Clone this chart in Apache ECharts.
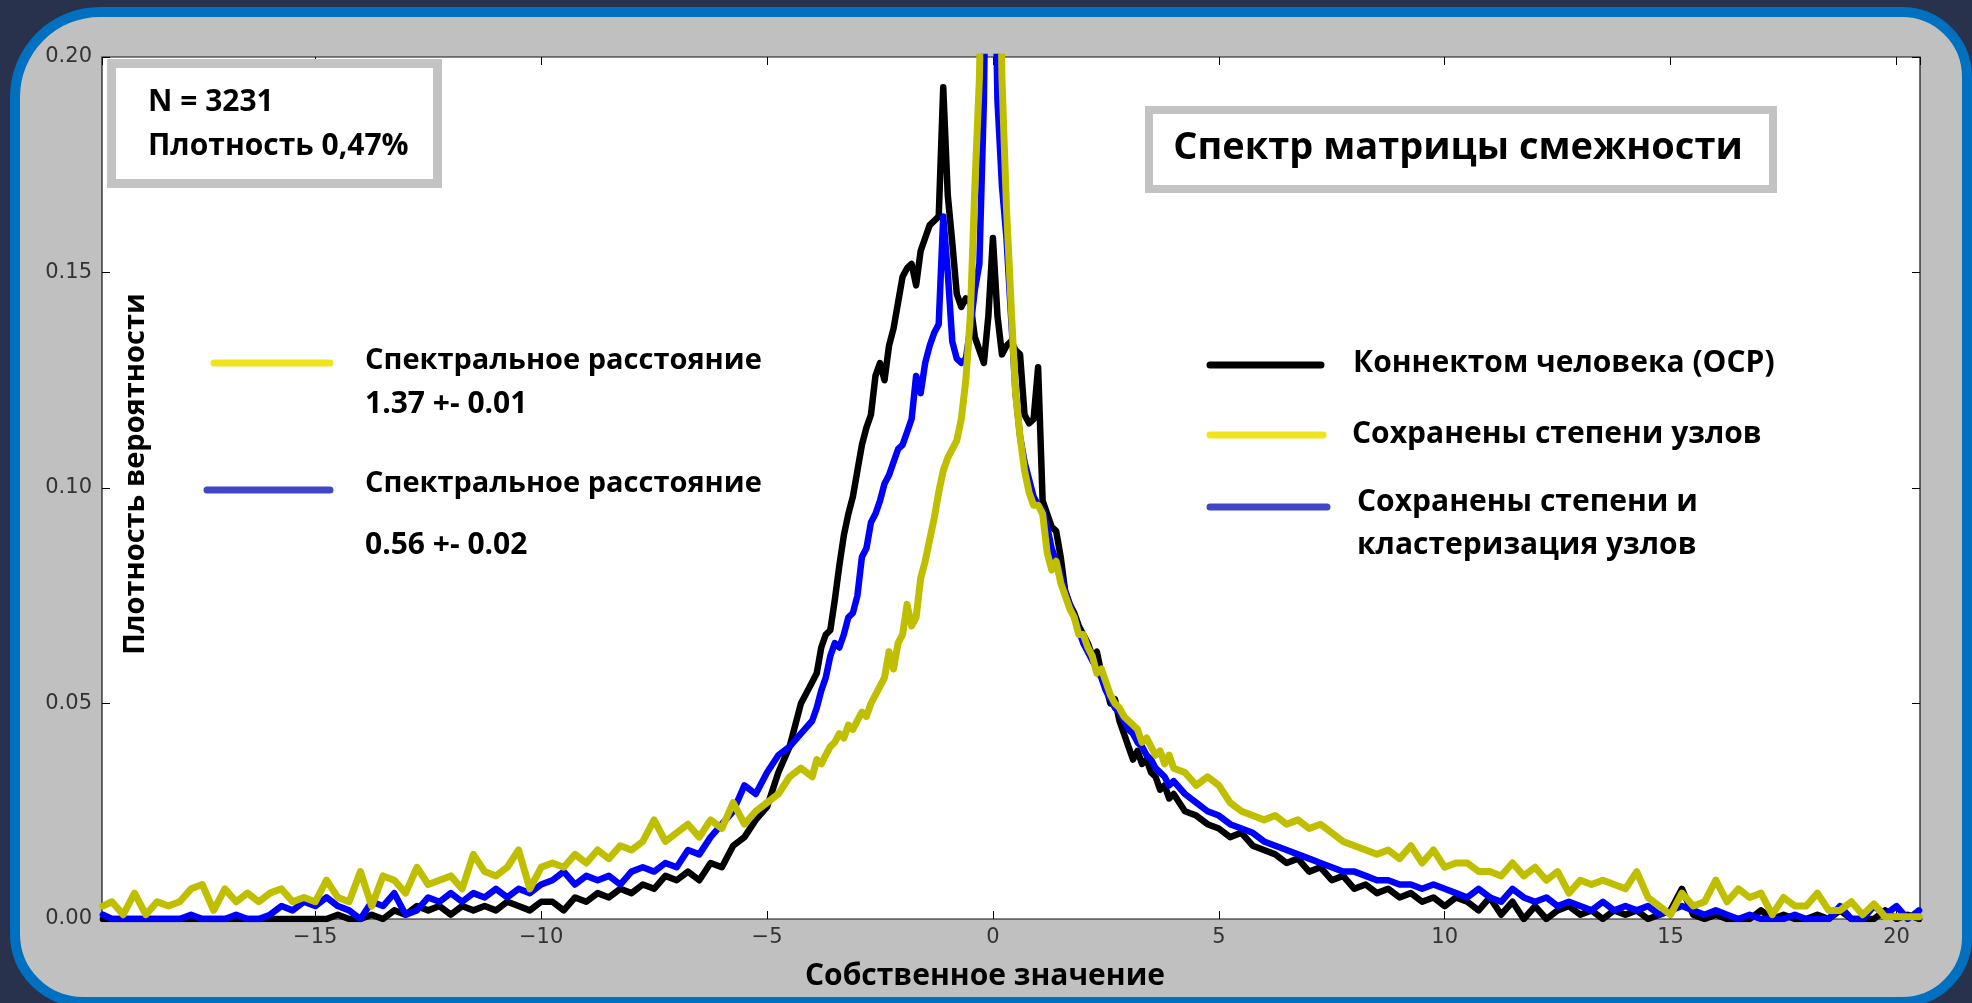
<!DOCTYPE html>
<html>
<head>
<meta charset="utf-8">
<script src="https://cdn.jsdelivr.net/npm/echarts/dist/echarts.min.js"></script>
<style>
  html, body { margin: 0; padding: 0; background: #28324d; }
  #chart { width: 1972px; height: 1003px; }
</style>
</head>
<body>
<div id="chart"></div>
<script>
// Eigenvalue bin positions: coarse in the tails, fine near zero
const eigen = [
  -19.7,
  -19.5, -19.25, -19,
  -18.75, -18.5, -18.25, -18,
  -17.75, -17.5, -17.25, -17,
  -16.75, -16.5, -16.25, -16,
  -15.75, -15.5, -15.25, -15,
  -14.75, -14.5, -14.25, -14,
  -13.75, -13.5, -13.25, -13,
  -12.75, -12.5, -12.25, -12,
  -11.75, -11.5, -11.25, -11,
  -10.75, -10.5, -10.25, -10,
  -9.75, -9.5, -9.25, -9,
  -8.75, -8.5, -8.25, -8,
  -7.75, -7.5, -7.25, -7,
  -6.75, -6.5, -6.25, -6,
  -5.75, -5.5, -5.25, -5,
  -4.75, -4.5, -4.25,
  -4.0, -3.9, -3.8, -3.7, -3.6, -3.5, -3.4, -3.3, -3.2, -3.1,
  -3.0, -2.9, -2.8, -2.7, -2.6, -2.5, -2.4, -2.3, -2.2, -2.1,
  -2.0, -1.9, -1.8, -1.7, -1.6, -1.5, -1.4, -1.3, -1.2, -1.1,
  -1.0, -0.9, -0.8, -0.7, -0.6, -0.5, -0.4, -0.3, -0.2, -0.1,
  0.0, 0.1, 0.2, 0.3, 0.4, 0.5, 0.6, 0.7, 0.8, 0.9,
  1.0, 1.1, 1.2, 1.3, 1.4, 1.5, 1.6, 1.7, 1.8, 1.9,
  2.0, 2.1, 2.2, 2.3, 2.4, 2.5, 2.6, 2.7, 2.8, 2.9,
  3.0, 3.1, 3.2, 3.3, 3.4, 3.5, 3.6, 3.7, 3.8, 3.9,
  4.0,
  4.25, 4.5, 4.75, 5,
  5.25, 5.5, 5.75, 6,
  6.25, 6.5, 6.75, 7,
  7.25, 7.5, 7.75, 8,
  8.25, 8.5, 8.75, 9,
  9.25, 9.5, 9.75, 10,
  10.25, 10.5, 10.75, 11,
  11.25, 11.5, 11.75, 12,
  12.25, 12.5, 12.75, 13,
  13.25, 13.5, 13.75, 14,
  14.25, 14.5, 14.75, 15,
  15.25, 15.5, 15.75, 16,
  16.25, 16.5, 16.75, 17,
  17.25, 17.5, 17.75, 18,
  18.25, 18.5, 18.75, 19,
  19.25, 19.5, 19.75, 20,
  20.25, 20.5
];

// Human connectome (OCP) spectral density
const ocp = [
  0,
  0, 0, 0,
  0, 0, 0, 0,
  0, 0, 0, 0,
  0, 0, 0, 0,
  0, 0, 0, 0,
  0, 0.001, 0, 0,
  0.001, 0, 0.002, 0.001,
  0.003, 0.002, 0.003, 0.001,
  0.003, 0.002, 0.003, 0.002,
  0.004, 0.003, 0.002, 0.004,
  0.004, 0.002, 0.005, 0.004,
  0.006, 0.005, 0.007, 0.006,
  0.008, 0.007, 0.010, 0.009,
  0.011, 0.009, 0.013, 0.012,
  0.017, 0.019, 0.023, 0.026,
  0.034, 0.040, 0.050,
  0.055, 0.057, 0.063, 0.066, 0.067, 0.074, 0.082, 0.089, 0.094, 0.098,
  0.104, 0.110, 0.114, 0.117, 0.126, 0.129, 0.125, 0.133, 0.137, 0.143,
  0.149, 0.151, 0.152, 0.147, 0.155, 0.158, 0.161, 0.162, 0.163, 0.193,
  0.168, 0.157, 0.145, 0.142, 0.144, 0.143, 0.135, 0.132, 0.129, 0.140,
  0.158, 0.140, 0.131, 0.133, 0.134, 0.132, 0.131, 0.117, 0.115, 0.116,
  0.128, 0.097, 0.094, 0.091, 0.090, 0.084, 0.076, 0.073, 0.071, 0.068,
  0.066, 0.064, 0.061, 0.062, 0.057, 0.054, 0.050, 0.051, 0.046, 0.043,
  0.040, 0.037, 0.039, 0.036, 0.037, 0.034, 0.033, 0.030, 0.031, 0.028,
  0.029,
  0.025, 0.024, 0.022, 0.021,
  0.019, 0.020, 0.017, 0.016,
  0.015, 0.013, 0.014, 0.011,
  0.012, 0.009, 0.010, 0.007,
  0.008, 0.006, 0.007, 0.005,
  0.006, 0.004, 0.005, 0.003,
  0.005, 0.004, 0.002, 0.005,
  0.001, 0.004, 0, 0.003,
  0, 0.002, 0.003, 0.001,
  0.002, 0, 0.002, 0.001,
  0.002, 0, 0.001, 0.002,
  0.007, 0.001, 0, 0.001,
  0, 0, 0, 0.002,
  0, 0.001, 0, 0,
  0.001, 0, 0.002, 0,
  0, 0, 0.002, 0,
  0.001, 0
];

// Null model: node degrees preserved
const degSeq = [
  0.003,
  0.004, 0.001, 0.006,
  0.001, 0.004, 0.003, 0.004,
  0.007, 0.008, 0.002, 0.007,
  0.004, 0.006, 0.004, 0.006,
  0.007, 0.004, 0.005, 0.004,
  0.009, 0.005, 0.004, 0.011,
  0.003, 0.010, 0.009, 0.006,
  0.012, 0.008, 0.009, 0.010,
  0.007, 0.015, 0.011, 0.010,
  0.012, 0.016, 0.007, 0.012,
  0.013, 0.012, 0.015, 0.013,
  0.016, 0.014, 0.017, 0.016,
  0.018, 0.023, 0.018, 0.020,
  0.022, 0.019, 0.023, 0.021,
  0.027, 0.022, 0.025, 0.027,
  0.029, 0.033, 0.035,
  0.033, 0.037, 0.036, 0.038, 0.040, 0.041, 0.043, 0.042, 0.045, 0.044,
  0.046, 0.048, 0.047, 0.050, 0.052, 0.054, 0.056, 0.062, 0.058, 0.064,
  0.066, 0.073, 0.068, 0.070, 0.079, 0.083, 0.088, 0.093, 0.099, 0.104,
  0.107, 0.109, 0.111, 0.116, 0.125, 0.140, 0.170, 0.195, 0.250, 0.290,
  0.300, 0.270, 0.195, 0.165, 0.143, 0.122, 0.112, 0.104, 0.099, 0.096,
  0.096, 0.094, 0.085, 0.081, 0.083, 0.078, 0.075, 0.072, 0.070, 0.066,
  0.066, 0.063, 0.061, 0.057, 0.058, 0.055, 0.052, 0.050, 0.049, 0.047,
  0.046, 0.045, 0.044, 0.041, 0.042, 0.040, 0.038, 0.039, 0.036, 0.038,
  0.035,
  0.034, 0.031, 0.033, 0.031,
  0.027, 0.025, 0.024, 0.023,
  0.024, 0.022, 0.023, 0.021,
  0.022, 0.020, 0.018, 0.017,
  0.016, 0.015, 0.016, 0.014,
  0.017, 0.013, 0.016, 0.012,
  0.013, 0.013, 0.011, 0.011,
  0.010, 0.013, 0.010, 0.012,
  0.009, 0.011, 0.006, 0.009,
  0.008, 0.009, 0.008, 0.007,
  0.011, 0.005, 0.003, 0.001,
  0.006, 0.003, 0.004, 0.009,
  0.004, 0.007, 0.005, 0.006,
  0.001, 0.005, 0.003, 0.003,
  0.006, 0.002, 0.002, 0.004,
  0.001, 0.0035, 0.0005, 0.0005,
  0.0005, 0.0005
];

// Null model: node degrees and clustering preserved
const degClust = [
  0.001,
  0, 0, 0,
  0, 0, 0, 0,
  0.001, 0, 0, 0,
  0.001, 0, 0, 0.001,
  0.003, 0.002, 0.004, 0.003,
  0.005, 0.003, 0.002, 0,
  0.004, 0.003, 0.006, 0.001,
  0.002, 0.005, 0.004, 0.006,
  0.004, 0.006, 0.005, 0.007,
  0.005, 0.007, 0.006, 0.008,
  0.009, 0.011, 0.008, 0.010,
  0.009, 0.010, 0.008, 0.011,
  0.012, 0.011, 0.013, 0.012,
  0.016, 0.015, 0.019, 0.022,
  0.025, 0.031, 0.029, 0.034,
  0.038, 0.040, 0.043,
  0.046, 0.049, 0.053, 0.056, 0.061, 0.064, 0.063, 0.066, 0.070, 0.071,
  0.075, 0.084, 0.086, 0.092, 0.094, 0.097, 0.101, 0.103, 0.106, 0.109,
  0.110, 0.113, 0.116, 0.126, 0.122, 0.129, 0.133, 0.136, 0.138, 0.163,
  0.150, 0.134, 0.130, 0.129, 0.130, 0.137, 0.146, 0.152, 0.190, 0.270,
  0.250, 0.190, 0.170, 0.158, 0.140, 0.122, 0.112, 0.106, 0.102, 0.098,
  0.096, 0.095, 0.091, 0.086, 0.083, 0.080, 0.076, 0.073, 0.070, 0.067,
  0.064, 0.062, 0.060, 0.058, 0.056, 0.053, 0.051, 0.049, 0.048, 0.046,
  0.044, 0.043, 0.041, 0.040, 0.038, 0.037, 0.035, 0.034, 0.033, 0.031,
  0.032,
  0.029, 0.027, 0.025, 0.024,
  0.022, 0.021, 0.020, 0.018,
  0.017, 0.016, 0.015, 0.014,
  0.013, 0.012, 0.011, 0.011,
  0.010, 0.009, 0.009, 0.008,
  0.008, 0.007, 0.008, 0.007,
  0.006, 0.005, 0.007, 0.005,
  0.004, 0.007, 0.005, 0.004,
  0.005, 0.003, 0.004, 0.003,
  0.002, 0.004, 0.002, 0.003,
  0.002, 0.003, 0.001, 0.002,
  0.003, 0.002, 0.001, 0.002,
  0.001, 0, 0.001, 0,
  0, 0, 0.001, 0,
  0, 0, 0.003, 0,
  0, 0.003, 0.001, 0.003,
  0, 0.002
];

// Axis ranges
const xRange = [-19.72, 20.52];
const yRange = [0, 0.2];

const pairs = ys => eigen.map((x, i) => [x, ys[i]]);

const TXT = '"Open Sans", "Noto Sans", sans-serif';
const bold = size => 'bold ' + size + 'px ' + TXT;

function label(text, x, y, size, align) {
  return {
    type: 'text', z: 100, silent: true,
    style: { text: text, x: x, y: y, font: bold(size), fill: '#000',
             textAlign: align || 'left', textVerticalAlign: 'middle' }
  };
}
function swatch(x1, x2, y, color) {
  return {
    type: 'line', z: 100, silent: true,
    shape: { x1: x1, y1: y, x2: x2, y2: y },
    style: { stroke: color, lineWidth: 7, lineCap: 'round' }
  };
}

const tickStyle = { show: true, inside: true, length: 8, lineStyle: { color: '#000', width: 1 } };
const tickFont = { fontFamily: '"DejaVu Sans", sans-serif', fontSize: 21, color: '#333' };
const hiddenLine = { show: false, onZero: false };

const chart = echarts.init(document.getElementById('chart'), null, { renderer: 'canvas' });

chart.setOption({
  animation: false,
  backgroundColor: '#28324d',
  grid: {
    left: 102, right: 52, top: 57, bottom: 84,
    show: true, backgroundColor: '#ffffff', borderColor: '#111', borderWidth: 1.2
  },
  xAxis: [
    {
      type: 'value', min: xRange[0], max: xRange[1],
      minInterval: 5, maxInterval: 5,
      axisLine: hiddenLine,
      axisTick: tickStyle,
      splitLine: { show: false },
      axisLabel: Object.assign({
        margin: 8, showMinLabel: false, showMaxLabel: false,
        formatter: v => {
          if (Math.abs(v / 5 - Math.round(v / 5)) > 1e-6) return '';
          return v < 0 ? '\u2212' + Math.abs(v) : String(v);
        }
      }, tickFont)
    },
    {
      type: 'value', position: 'top', min: xRange[0], max: xRange[1],
      minInterval: 5, maxInterval: 5,
      axisLine: hiddenLine, axisTick: tickStyle,
      splitLine: { show: false }, axisLabel: { show: false }
    }
  ],
  yAxis: [
    {
      type: 'value', position: 'left', min: yRange[0], max: yRange[1], interval: 0.05,
      axisLine: hiddenLine, axisTick: tickStyle,
      splitLine: { show: false },
      axisLabel: Object.assign({ margin: 10, formatter: v => v.toFixed(2) }, tickFont)
    },
    {
      type: 'value', position: 'right', min: yRange[0], max: yRange[1], interval: 0.05,
      axisLine: hiddenLine, axisTick: tickStyle,
      splitLine: { show: false }, axisLabel: { show: false }
    }
  ],
  series: [
    {
      name: 'Коннектом человека (ОСР)', type: 'line', data: pairs(ocp),
      showSymbol: false, clip: true, z: 3,
      lineStyle: { color: '#000000', width: 6.5, join: 'round', cap: 'round' }
    },
    {
      name: 'Сохранены степени и кластеризация узлов', type: 'line', data: pairs(degClust),
      showSymbol: false, clip: true, z: 4,
      lineStyle: { color: '#0000ff', width: 6.5, join: 'round', cap: 'round' }
    },
    {
      name: 'Сохранены степени узлов', type: 'line', data: pairs(degSeq),
      showSymbol: false, clip: true, z: 5,
      lineStyle: { color: '#bfbf00', width: 7, join: 'round', cap: 'round' }
    }
  ],
  graphic: [
    // rounded slide panel
    {
      type: 'rect', z: -10, silent: true,
      shape: { x: 15, y: 12, width: 1952, height: 990, r: [85, 65, 65, 68] },
      style: { fill: '#c0c0c0', stroke: '#0070c0', lineWidth: 10 }
    },
    // info box
    {
      type: 'rect', z: 90, silent: true,
      shape: { x: 111.5, y: 63.5, width: 326, height: 120 },
      style: { fill: '#ffffff', stroke: '#c3c3c3', lineWidth: 9 }
    },
    label('N = 3231', 148, 102, 30),
    label('Плотность 0,47%', 148, 146, 30),
    // title box
    {
      type: 'rect', z: 90, silent: true,
      shape: { x: 1149, y: 110, width: 624, height: 79 },
      style: { fill: '#ffffff', stroke: '#c3c3c3', lineWidth: 8 }
    },
    label('Спектр матрицы смежности', 1458, 148, 38, 'center'),
    // spectral distance notes
    swatch(214, 330, 363, '#f2e41c'),
    label('Спектральное расстояние', 365, 361, 29),
    label('1.37 +- 0.01', 365, 404, 30),
    swatch(207, 330, 490, '#4046c6'),
    label('Спектральное расстояние', 365, 484, 29),
    label('0.56 +- 0.02', 365, 545, 30),
    // series key
    swatch(1210, 1321, 365, '#000000'),
    label('Коннектом человека (ОСР)', 1353, 363, 30),
    swatch(1210, 1323, 435, '#f2e41c'),
    label('Сохранены степени узлов', 1352, 434, 30),
    swatch(1210, 1327, 507, '#4046c6'),
    label('Сохранены степени и', 1357, 502, 30),
    label('кластеризация узлов', 1357, 545, 30),
    // axis titles
    {
      type: 'text', z: 100, silent: true, x: 136, y: 474, rotation: Math.PI / 2,
      style: { text: 'Плотность вероятности', x: 0, y: 0, font: bold(29), fill: '#000',
               textAlign: 'center', textVerticalAlign: 'middle' }
    },
    label('Собственное значение', 985, 976, 30, 'center')
  ]
});
</script>
</body>
</html>
